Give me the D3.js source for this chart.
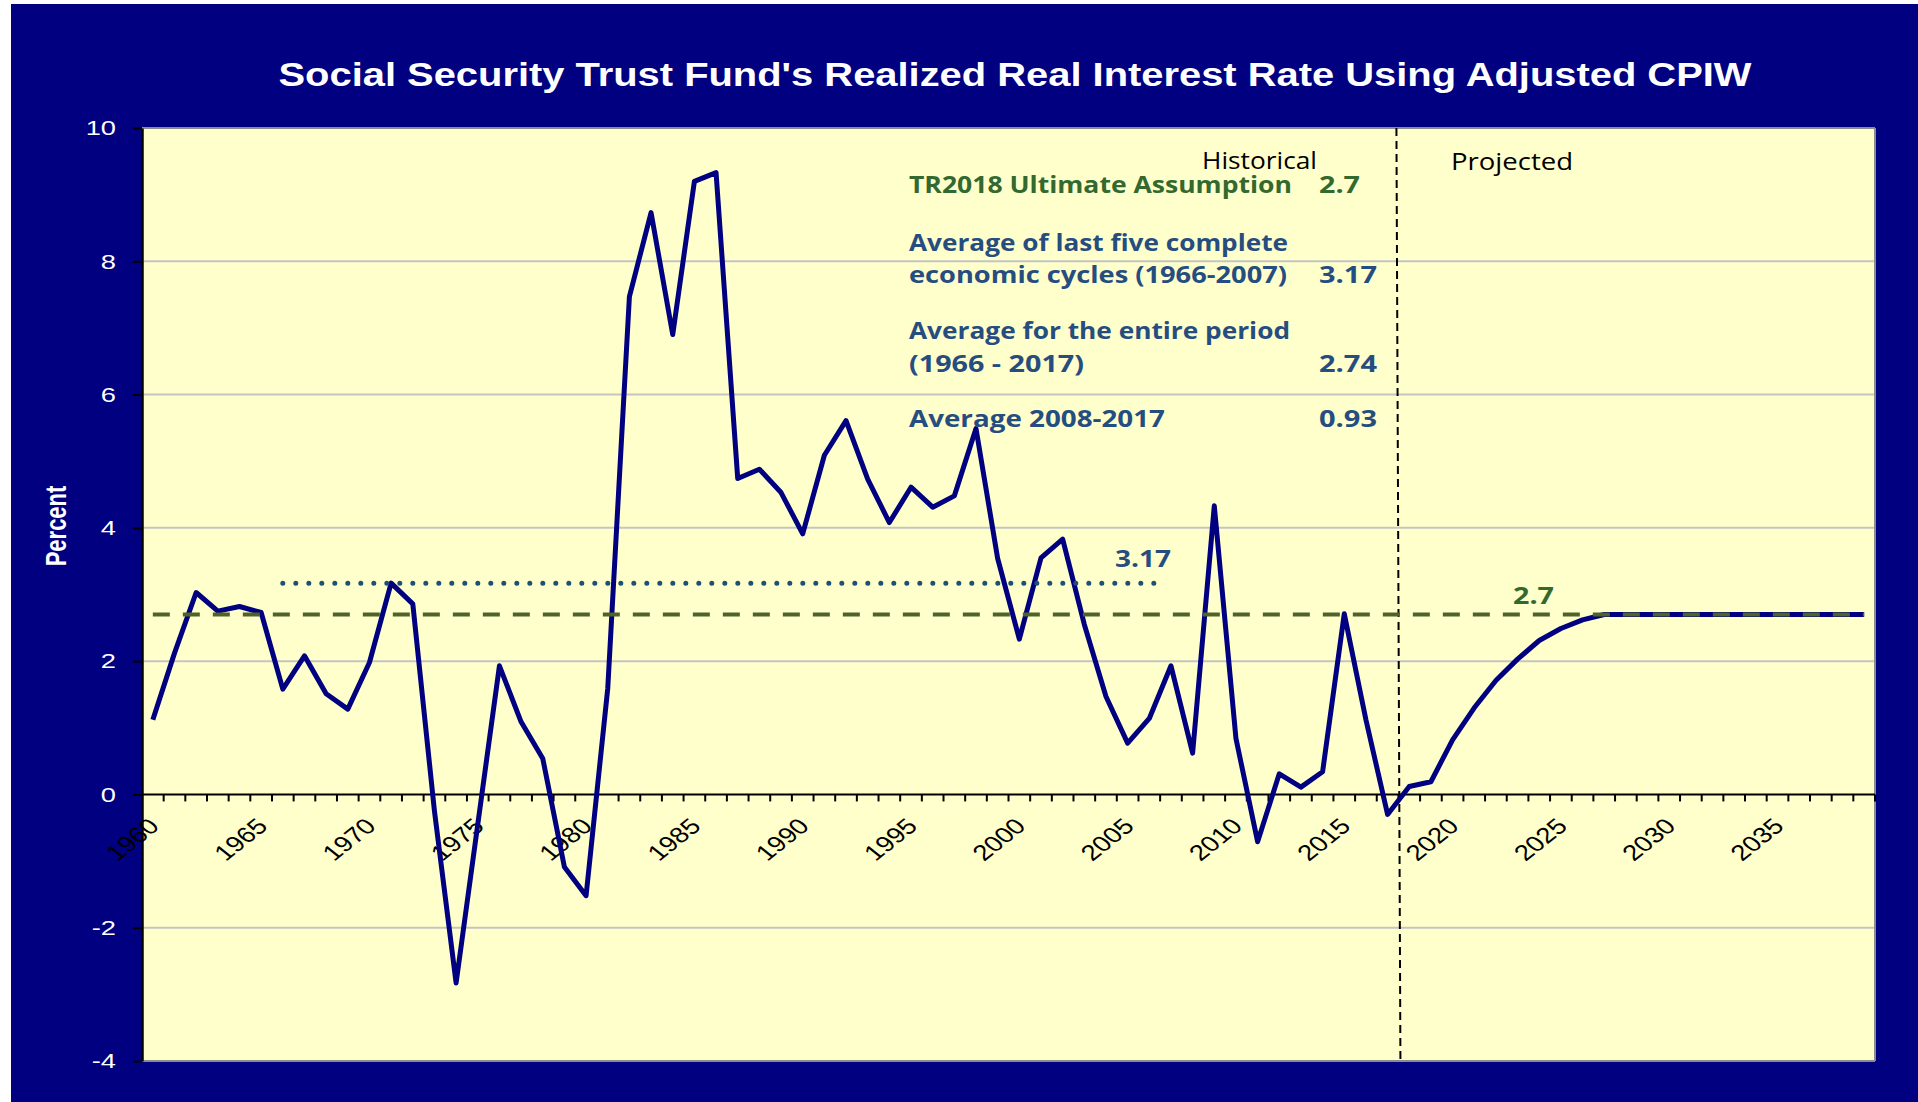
<!DOCTYPE html>
<html>
<head>
<meta charset="utf-8">
<script src="https://cdn.jsdelivr.net/npm/d3@7/dist/d3.min.js"></script>
<style>
  body { margin: 0; background: #fff; }
  svg { display: block; }
</style>
</head>
<body>
<div id="chart"></div>
<script>
// categories: one per year, 1960 to 2039
const years = d3.range(1960, 2040);
const labelYears = [1960, 1965, 1970, 1975, 1980, 1985, 1990, 1995, 2000, 2005, 2010, 2015, 2020, 2025, 2030, 2035];
const yTicks = [-4, -2, 0, 2, 4, 6, 8, 10];

// realized real interest rate, 1960-2017 (historical)
const historical = [1.12, 2.12, 3.03, 2.75, 2.82, 2.73, 1.58, 2.08, 1.51, 1.28,
  1.98, 3.17, 2.86, -0.25, -2.83, -0.45, 1.93, 1.09, 0.54, -1.09,
  -1.52, 1.59, 7.47, 8.73, 6.90, 9.20, 9.33, 4.74, 4.88, 4.53,
  3.91, 5.09, 5.61, 4.73, 4.08, 4.61, 4.31, 4.48, 5.49, 3.54,
  2.33, 3.55, 3.83, 2.55, 1.47, 0.77, 1.14, 1.93, 0.62, 4.33,
  0.84, -0.71, 0.31, 0.11, 0.34, 2.71, 1.12, -0.30];
// projected, 2018-2039
const projected = [0.12, 0.19, 0.82, 1.30, 1.71, 2.03, 2.31, 2.49, 2.62, 2.70,
  2.7, 2.7, 2.7, 2.7, 2.7, 2.7, 2.7, 2.7, 2.7, 2.7, 2.7, 2.7];

const ultimate = 2.7;          // TR2018 ultimate assumption
const cycleAvg = 3.17;         // 1966-2007 average
const cycleYears = [1966, 2007];
const splitYear = 2018;        // first projected year

const notesGreen = [["TR2018 Ultimate Assumption", "2.7"]];
const notesBlue = [
  ["Average of last five complete", ""],
  ["economic cycles (1966-2007)", "3.17"],
  ["Average for the entire period", ""],
  ["(1966 - 2017)", "2.74"],
  ["Average 2008-2017", "0.93"]
];

const title = "Social Security Trust Fund's Realized Real Interest Rate Using Adjusted CPIW";

const rates = historical.concat(projected);
const data = years.map((yr, i) => ({year: yr, value: rates[i]}));

const W = 1918, H = 1102;
const plot = {left: 142, right: 1875, top: 128, bottom: 1061};
const navy = '#000080';
const blueText = '#264d80';
const greenText = '#33692e';
const arial = 'Arial, "Liberation Sans", sans-serif';

const svg = d3.select('#chart').append('svg')
  .attr('width', W)
  .attr('height', H);

// dark blue frame
svg.append('rect')
  .attr('x', 11).attr('y', 4)
  .attr('width', W - 11).attr('height', H - 4)
  .attr('fill', navy);

const x = d3.scaleBand().domain(years).range([plot.left, plot.right]);
const y = d3.scaleLinear().domain([-4, 10]).range([plot.bottom, plot.top]);
const cx = yr => x(yr) + x.bandwidth() / 2;

// plot area
svg.append('rect')
  .attr('x', plot.left).attr('y', plot.top)
  .attr('width', plot.right - plot.left).attr('height', plot.bottom - plot.top)
  .attr('fill', '#ffffcc');

// gridlines
svg.append('g').selectAll('line')
  .data(yTicks.filter(v => v !== 0))
  .join('line')
  .attr('x1', plot.left).attr('x2', plot.right)
  .attr('y1', d => y(d)).attr('y2', d => y(d))
  .attr('stroke', d => (d === 10 || d === -4) ? '#8c8c8c' : '#c4c4c4')
  .attr('stroke-width', 2);

// right border
svg.append('line')
  .attr('x1', plot.right).attr('x2', plot.right)
  .attr('y1', plot.top).attr('y2', plot.bottom)
  .attr('stroke', '#8c8c8c').attr('stroke-width', 2);

// y axis
const yAxis = svg.append('g')
  .attr('transform', `translate(${plot.left},0)`)
  .call(d3.axisLeft(y).tickValues(yTicks).tickFormat(d => String(d))
    .tickSize(9).tickSizeOuter(0).tickPadding(0));
yAxis.select('.domain').attr('stroke', '#000').attr('stroke-width', 2.5);
yAxis.selectAll('.tick line').attr('stroke', '#000').attr('stroke-width', 2);
yAxis.selectAll('.tick text')
  .attr('x', null)
  .attr('transform', 'translate(-26,0) scale(1.3,1)')
  .attr('fill', '#fff')
  .style('font-family', arial)
  .style('font-size', '21px');

// x axis along zero
const y0 = y(0);
svg.append('line')
  .attr('x1', plot.left).attr('x2', plot.right)
  .attr('y1', y0).attr('y2', y0)
  .attr('stroke', '#000').attr('stroke-width', 2);

svg.append('g').selectAll('line')
  .data(years.concat([null]))
  .join('line')
  .attr('x1', d => d === null ? plot.right : x(d))
  .attr('x2', d => d === null ? plot.right : x(d))
  .attr('y1', y0).attr('y2', y0 + 7)
  .attr('stroke', '#000').attr('stroke-width', 2);

svg.append('g').selectAll('text')
  .data(labelYears)
  .join('text')
  .attr('transform', d => `translate(${cx(d) - 6},${y0 + 22}) scale(1.25,1) rotate(-45)`)
  .attr('text-anchor', 'end')
  .attr('dy', '0.71em')
  .style('font-family', arial)
  .style('font-size', '22px')
  .attr('fill', '#000')
  .text(d => d);

// historical / projected divider
svg.append('line')
  .attr('x1', x(splitYear) - 2).attr('x2', x(splitYear) + 2)
  .attr('y1', plot.top).attr('y2', plot.bottom)
  .attr('stroke', '#000').attr('stroke-width', 2)
  .attr('stroke-dasharray', '8,5');

// main line
const line = d3.line()
  .x(d => cx(d.year))
  .y(d => y(d.value));

svg.append('path')
  .datum(data)
  .attr('fill', 'none')
  .attr('stroke', navy)
  .attr('stroke-width', 5)
  .attr('stroke-linejoin', 'round')
  .attr('d', line);

// reference lines
svg.append('line')
  .attr('x1', cx(1960)).attr('x2', cx(2039))
  .attr('y1', y(ultimate)).attr('y2', y(ultimate))
  .attr('stroke', '#4f6228').attr('stroke-width', 4)
  .attr('stroke-dasharray', '17,13');

svg.append('line')
  .attr('x1', cx(cycleYears[0])).attr('x2', x(cycleYears[1]))
  .attr('y1', y(cycleAvg)).attr('y2', y(cycleAvg))
  .attr('stroke', '#1f4e79').attr('stroke-width', 5)
  .attr('stroke-linecap', 'round')
  .attr('stroke-dasharray', '0,13');

const boldFont = '"Open Sans", "Noto Sans", sans-serif';

svg.append('text')
  .attr('x', 1115).attr('y', 567)
  .attr('fill', blueText)
  .style('font-family', boldFont).style('font-weight', 'bold').style('font-size', '23px')
  .attr('textLength', 56).attr('lengthAdjust', 'spacingAndGlyphs')
  .text(cycleAvg);

svg.append('text')
  .attr('x', 1513).attr('y', 604)
  .attr('fill', greenText)
  .style('font-family', boldFont).style('font-weight', 'bold').style('font-size', '23px')
  .attr('textLength', 41).attr('lengthAdjust', 'spacingAndGlyphs')
  .text(ultimate);

// notes block
const noteLeft = 909, numLeft = 1319;
const noteRows = [
  {txt: notesGreen[0][0], num: notesGreen[0][1], base: 193, w: 383, color: greenText},
  {txt: notesBlue[0][0], num: notesBlue[0][1], base: 251, w: 379, color: blueText},
  {txt: notesBlue[1][0], num: notesBlue[1][1], base: 283, w: 378, color: blueText},
  {txt: notesBlue[2][0], num: notesBlue[2][1], base: 339, w: 381, color: blueText},
  {txt: notesBlue[3][0], num: notesBlue[3][1], base: 372, w: 175, color: blueText},
  {txt: notesBlue[4][0], num: notesBlue[4][1], base: 427, w: 256, color: blueText}
];
const notes = svg.append('g')
  .style('font-family', boldFont).style('font-weight', 'bold').style('font-size', '23px');
noteRows.forEach(r => {
  notes.append('text')
    .attr('x', noteLeft).attr('y', r.base)
    .attr('fill', r.color)
    .attr('textLength', r.w).attr('lengthAdjust', 'spacingAndGlyphs')
    .text(r.txt);
  if (r.num) {
    notes.append('text')
      .attr('x', numLeft).attr('y', r.base)
      .attr('fill', r.color)
      .attr('textLength', r.num.length > 3 ? 58 : 41).attr('lengthAdjust', 'spacingAndGlyphs')
      .text(r.num);
  }
});

svg.append('text')
  .attr('x', 1202).attr('y', 169)
  .style('font-family', '"Open Sans", sans-serif').style('font-size', '23px')
  .attr('fill', '#000')
  .attr('textLength', 115).attr('lengthAdjust', 'spacingAndGlyphs')
  .text('Historical');

svg.append('text')
  .attr('x', 1451).attr('y', 170)
  .style('font-family', '"Open Sans", sans-serif').style('font-size', '23px')
  .attr('fill', '#000')
  .attr('textLength', 122).attr('lengthAdjust', 'spacingAndGlyphs')
  .text('Projected');

// title
svg.append('text')
  .attr('x', 1015).attr('y', 86)
  .attr('text-anchor', 'middle')
  .attr('fill', '#fff')
  .style('font-family', arial)
  .style('font-weight', 'bold').style('font-size', '33px')
  .attr('textLength', 1473).attr('lengthAdjust', 'spacingAndGlyphs')
  .text(title);

// y axis title
svg.append('text')
  .attr('transform', 'translate(66,526) scale(1.3,1) rotate(-90)')
  .attr('text-anchor', 'middle')
  .attr('fill', '#fff')
  .style('font-family', arial)
  .style('font-weight', 'bold').style('font-size', '22px')
  .text('Percent');
</script>
</body>
</html>
